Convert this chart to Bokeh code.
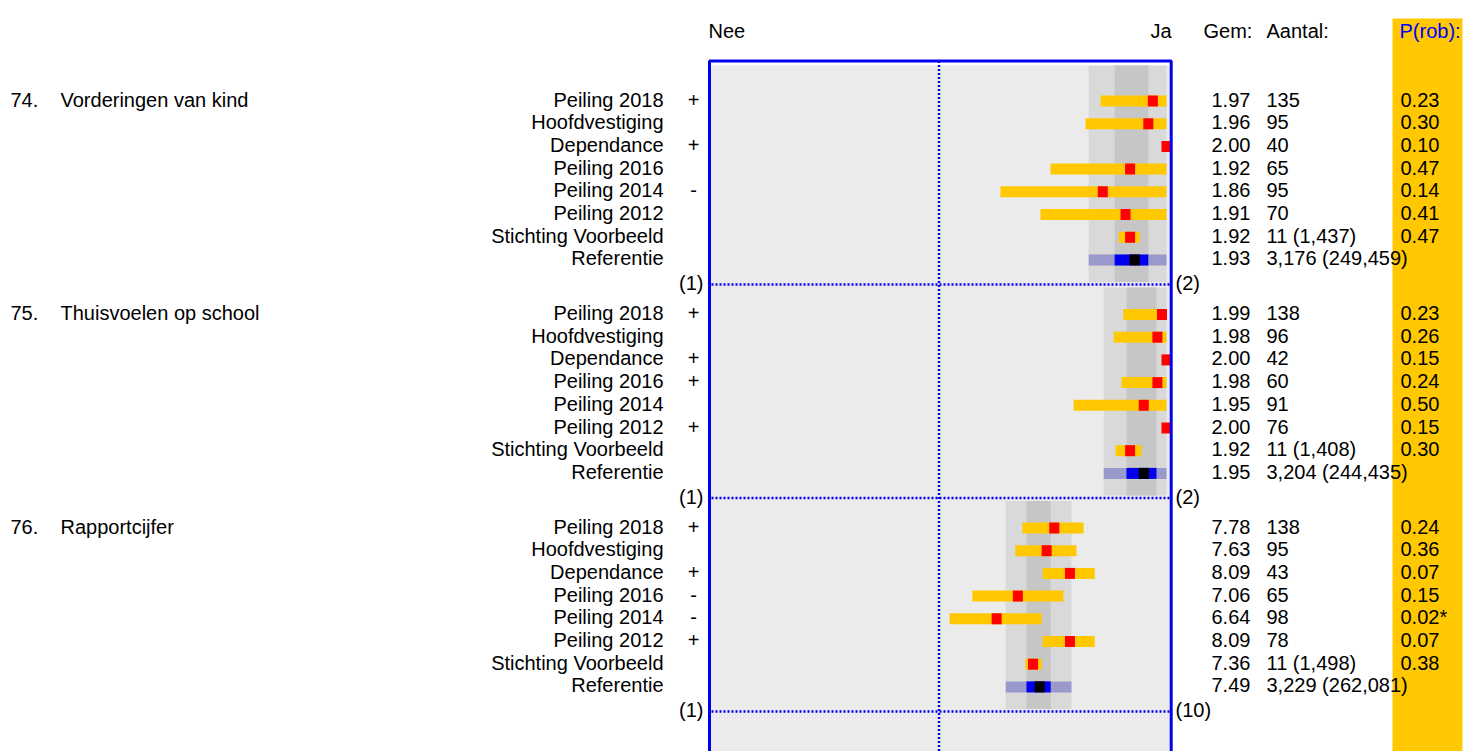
from bokeh.plotting import figure
from bokeh.models import Range1d, ColumnDataSource
from bokeh.embed import file_html
from bokeh.resources import INLINE
from bokeh.core.properties import value

# ---------------- data ----------------
section_nums = ["74.", "75.", "76."]
section_names = ["Vorderingen van kind", "Thuisvoelen op school", "Rapportcijfer"]
scale_lo = [1, 1, 1]
scale_hi = [2, 2, 10]
scale_lo_labels = ["(1)", "(1)", "(1)"]
scale_hi_labels = ["(2)", "(2)", "(10)"]
row_labels = ["Peiling 2018", "Hoofdvestiging", "Dependance", "Peiling 2016",
              "Peiling 2014", "Peiling 2012", "Stichting Voorbeeld", "Referentie"]

signs_74 = ["+", "", "+", "", "-", "", "", ""]
signs_75 = ["+", "", "+", "+", "", "+", "", ""]
signs_76 = ["+", "", "+", "-", "-", "+", "", ""]

gem_74 = [1.97, 1.96, 2.00, 1.92, 1.86, 1.91, 1.92, 1.93]
gem_75 = [1.99, 1.98, 2.00, 1.98, 1.95, 2.00, 1.92, 1.95]
gem_76 = [7.78, 7.63, 8.09, 7.06, 6.64, 8.09, 7.36, 7.49]

# confidence bars for the 7 non-reference rows
ci_lo_74 = [1.855, 1.822, 2.00, 1.745, 1.635, 1.723, 1.895]
ci_hi_74 = [2.00, 2.00, 2.00, 2.00, 2.00, 2.00, 1.941]
ci_lo_75 = [1.905, 1.884, 2.00, 1.901, 1.796, 2.00, 1.888]
ci_hi_75 = [2.00, 2.00, 2.00, 2.00, 2.00, 2.00, 1.945]
ci_lo_76 = [7.15, 7.01, 7.55, 6.16, 5.71, 7.55, 7.21]
ci_hi_76 = [8.36, 8.22, 8.58, 7.96, 7.53, 8.58, 7.53]

# reference percentile bands: outer low, inner low, inner high, outer high
ref_band_74 = [1.829, 1.886, 1.960, 2.00]
ref_band_75 = [1.862, 1.912, 1.978, 2.00]
ref_band_76 = [6.82, 7.23, 7.71, 8.12]

aantal_74 = ["135", "95", "40", "65", "95", "70", "11 (1,437)", "3,176 (249,459)"]
aantal_75 = ["138", "96", "42", "60", "91", "76", "11 (1,408)", "3,204 (244,435)"]
aantal_76 = ["138", "95", "43", "65", "98", "78", "11 (1,498)", "3,229 (262,081)"]

prob_74 = ["0.23", "0.30", "0.10", "0.47", "0.14", "0.41", "0.47", ""]
prob_75 = ["0.23", "0.26", "0.15", "0.24", "0.50", "0.15", "0.30", ""]
prob_76 = ["0.24", "0.36", "0.07", "0.15", "0.02*", "0.07", "0.38", ""]

signs = [signs_74, signs_75, signs_76]
gems = [gem_74, gem_75, gem_76]
ci_los = [ci_lo_74, ci_lo_75, ci_lo_76]
ci_his = [ci_hi_74, ci_hi_75, ci_hi_76]
ref_bands = [ref_band_74, ref_band_75, ref_band_76]
aantals = [aantal_74, aantal_75, aantal_76]
probs = [prob_74, prob_75, prob_76]

# ---------------- layout / style ----------------
W, H = 1464, 751
PANEL_L, PANEL_R = 711, 1166          # pixel positions of scale low / high
FRAME_L, FRAME_R, FRAME_T = 709, 1170.7, 60.5
ROW0, SEC_STEP, ROW_STEP = 100.5, 213.5, 22.7
SEP_OFF = 183.5
TXT_DY = -1.5
BAR_H = 11
FONT = value("Liberation Sans")
FS = "20px"
BLUE = "#0000ee"
YELLOW = "#ffc800"
BG = "#ebebeb"
BAND_OUT = "#d9d9d9"
BAND_IN = "#c6c6c6"
PURPLE = "#9999cc"


def make_range(lo, hi):
    k = (hi - lo) / (PANEL_R - PANEL_L)
    return Range1d(lo - PANEL_L * k, lo + (W - PANEL_L) * k)


range_names = []
extra = {}
for lo, hi in zip(scale_lo, scale_hi):
    name = "s%d_%d" % (lo, hi)
    if name not in extra:
        extra[name] = make_range(lo, hi)
    range_names.append(name)

p = figure(width=W, height=H, x_range=Range1d(0, W), y_range=Range1d(H, 0),
           x_axis_type=None, y_axis_type=None, min_border=0,
           toolbar_location=None, output_backend="svg",
           outline_line_color=None, background_fill_color="white")
p.extra_x_ranges = extra
p.grid.visible = False

# orange P(rob) column
p.quad(left=[1392], right=[1462], top=[18], bottom=[H], color=YELLOW, line_color=None)

# panel background
p.quad(left=[FRAME_L + 1.5], right=[FRAME_R - 1.5], top=[65], bottom=[H],
       color=BG, line_color=None)


def txt(x, y, t, align="left", color="black", **kw):
    p.text(x=x, y=[v + TXT_DY for v in y], text=t, text_font=FONT, text_font_size=FS,
           text_baseline="middle", text_align=align, text_color=color, **kw)


# header
txt([708], [32], ["Nee"])
txt([1171], [32], ["Ja"], align="right")
txt([1203], [32], ["Gem:"])
txt([1266], [32], ["Aantal:"])
txt([1399], [32], ["P(rob):"], color="#0000ff")

for s in range(len(section_nums)):
    rn = range_names[s]
    ys = [ROW0 + s * SEC_STEP + r * ROW_STEP for r in range(len(row_labels))]
    sep_y = ROW0 + s * SEC_STEP + SEP_OFF
    band_top = 65 if s == 0 else ys[0] - 27
    band_bot = sep_y - 2.5
    rb = ref_bands[s]

    # reference percentile bands
    p.quad(left=[rb[0]], right=[rb[3]], top=[band_top], bottom=[band_bot],
           color=BAND_OUT, line_color=None, x_range_name=rn)
    p.quad(left=[rb[1]], right=[rb[2]], top=[band_top], bottom=[band_bot],
           color=BAND_IN, line_color=None, x_range_name=rn)

    # separator
    p.segment(x0=[PANEL_L], x1=[FRAME_R - 1], y0=[sep_y], y1=[sep_y],
              line_color=BLUE, line_width=2.5, line_dash="2 2")

    # group bars
    n = len(ci_los[s])
    src = ColumnDataSource(dict(y=ys[:n], lo=ci_los[s], hi=ci_his[s], m=gems[s][:n]))
    p.hbar(y="y", left="lo", right="hi", height=BAR_H, color=YELLOW,
           line_color=None, source=src, x_range_name=rn)
    p.rect(x="m", y="y", width=10, width_units="screen", height=BAR_H,
           color="#ff0000", line_color=None, source=src, x_range_name=rn)

    # reference row
    yr = ys[-1]
    p.hbar(y=[yr], left=[rb[0]], right=[rb[3]], height=BAR_H, color=PURPLE,
           line_color=None, x_range_name=rn)
    p.hbar(y=[yr], left=[rb[1]], right=[rb[2]], height=BAR_H, color=BLUE,
           line_color=None, x_range_name=rn)
    p.rect(x=[gems[s][-1]], y=[yr], width=10, width_units="screen", height=BAR_H,
           color="black", line_color=None, x_range_name=rn)

    # texts
    txt([10], [ys[0]], [section_nums[s]])
    txt([60], [ys[0]], [section_names[s]])
    txt([663] * len(ys), ys, row_labels, align="right")
    txt([693] * len(ys), ys, signs[s], align="center")
    txt([703], [sep_y], [scale_lo_labels[s]], align="right")
    txt([1175], [sep_y], [scale_hi_labels[s]])
    txt([1211] * len(ys), ys, ["%.2f" % g for g in gems[s]])
    txt([1266] * len(ys), ys, aantals[s])
    txt([1400] * len(ys), ys, probs[s])

# middle dotted vertical line
mid = (scale_lo[0] + scale_hi[0]) / 2
p.segment(x0=[mid], x1=[mid], y0=[FRAME_T], y1=[H], line_color=BLUE,
          line_width=2.5, line_dash="2 2", x_range_name=range_names[0])

# frame (left, top, right)
p.line(x=[FRAME_L, FRAME_L, FRAME_R, FRAME_R], y=[H, FRAME_T, FRAME_T, H],
       line_color=BLUE, line_width=3)

open("out.html", "w").write(file_html(p, INLINE))
